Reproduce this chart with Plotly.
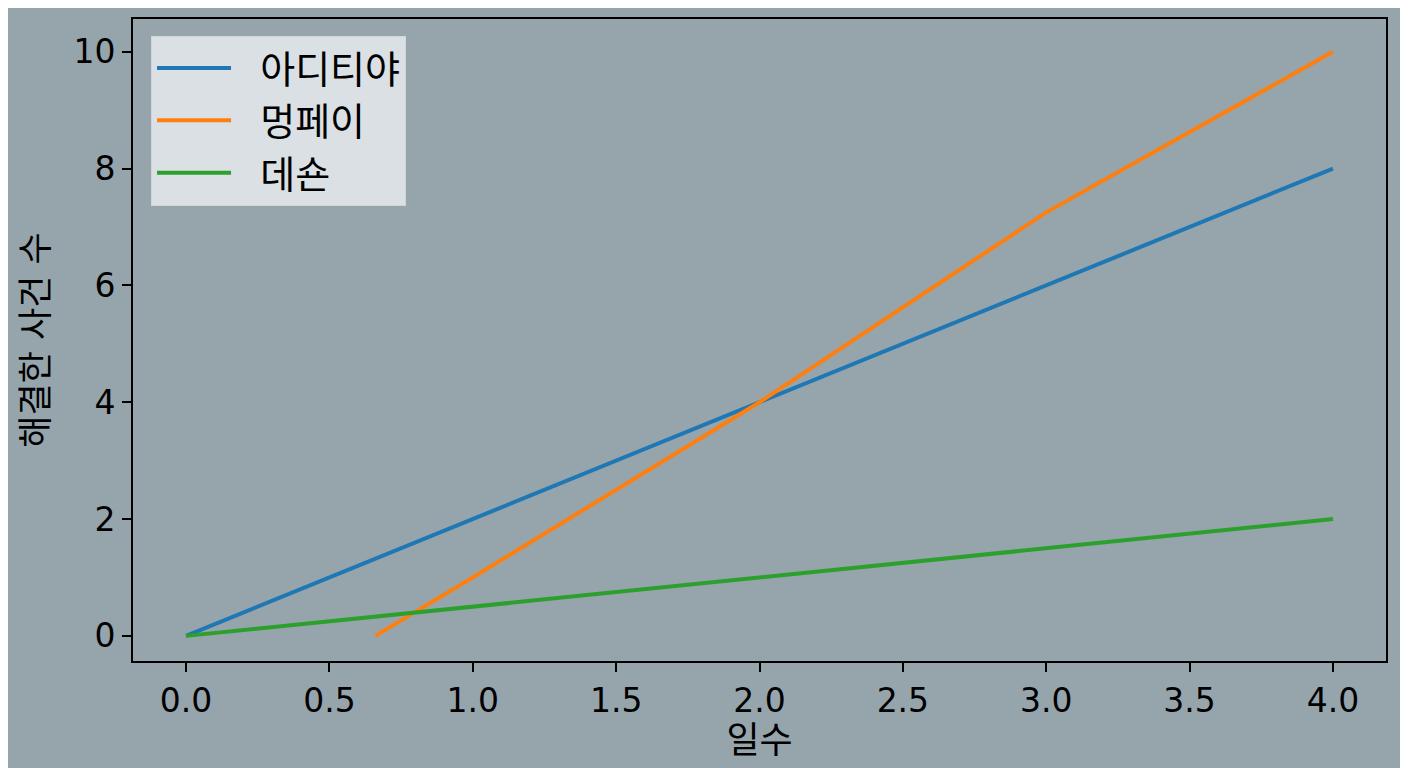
import plotly.graph_objects as go

# données
jours = [0, 1, 2, 3, 4]
aditya = [0, 2, 4, 6, 8]
mengpei_x = [0.66, 1, 2, 3, 4]
mengpei = [0, 1, 4, 7.25, 10]
deson = [0, 0.5, 1, 1.5, 2]

noms = ['아디티야', '멍페이', '데숀']
couleurs = ['#1f77b4', '#ff7f0e', '#2ca02c']

police = 'DejaVu Sans, Noto Sans CJK KR, sans-serif'
fond = '#96a5ac'
esp = '\u00a0\u00a0'  # petit espace entre le trait et le texte de la légende

fig = go.Figure()
fig.add_trace(go.Scatter(x=jours, y=aditya, mode='lines', name=esp + noms[0],
                         line=dict(color=couleurs[0], width=4)))
fig.add_trace(go.Scatter(x=mengpei_x, y=mengpei, mode='lines', name=esp + noms[1],
                         line=dict(color=couleurs[1], width=4)))
fig.add_trace(go.Scatter(x=jours, y=deson, mode='lines', name=esp + noms[2],
                         line=dict(color=couleurs[2], width=4)))

axe = dict(showgrid=False, zeroline=False, showline=True, linecolor='black', linewidth=2,
           mirror=True, ticks='outside', ticklen=9, tickwidth=2, tickcolor='black',
           tickfont=dict(size=33, color='black', family=police))

fig.update_xaxes(axe, range=[-0.185, 4.185], tickvals=[0, 0.5, 1, 1.5, 2, 2.5, 3, 3.5, 4],
                 ticktext=['0.0', '0.5', '1.0', '1.5', '2.0', '2.5', '3.0', '3.5', '4.0'],
                 title=dict(text='일수', font=dict(size=36, color='black', family=police), standoff=4))
fig.update_yaxes(axe, range=[-0.43, 10.56], tickvals=[0, 2, 4, 6, 8, 10],
                 title=dict(text='해결한 사건 수', font=dict(size=35, color='black', family=police), standoff=14))

fig.update_layout(
    width=1408, height=768,
    margin=dict(l=125, r=30, t=9, b=115),
    plot_bgcolor=fond, paper_bgcolor=fond,
    font=dict(family=police, color='black'),
    showlegend=True,
    legend=dict(x=0.0144, y=0.974, xanchor='left', yanchor='top',
                bgcolor='rgba(230,234,236,0.85)', bordercolor='#cfd5d8', borderwidth=1,
                font=dict(size=38, color='black', family=police), itemwidth=74,
                tracegroupgap=0),
)

fig.write_html('out.html')
print('out.html généré avec succès !')
